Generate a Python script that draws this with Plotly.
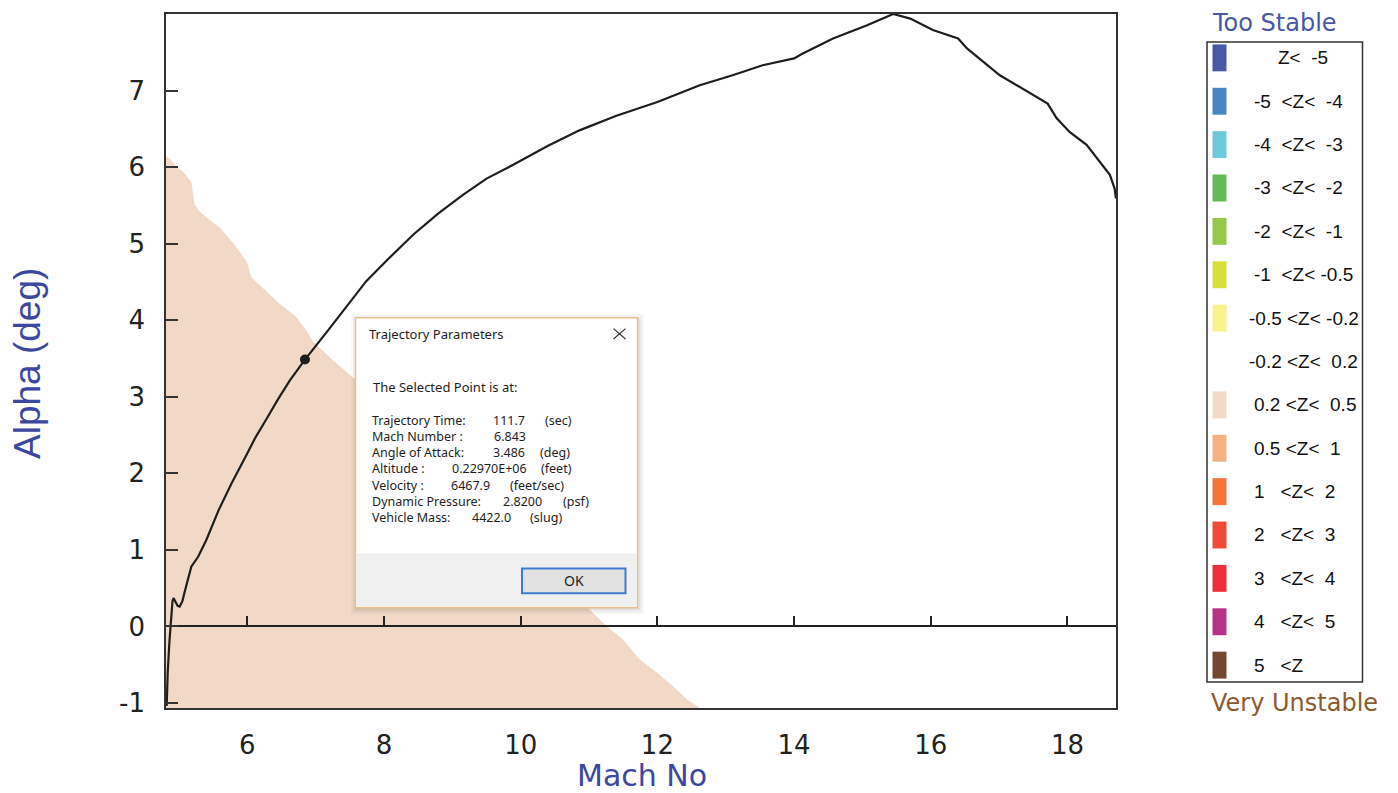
import plotly.graph_objects as go

# ---------------- data ----------------
x_range = [4.81, 18.71]
y_range = [-1.065, 8.0]
x_ticks = [6, 8, 10, 12, 14, 16, 18]
x_tick_labels = ["6", "8", "10", "12", "14", "16", "18"]
y_ticks = [-1, 0, 1, 2, 3, 4, 5, 6, 7]
y_tick_labels = ["-1", "0", "1", "2", "3", "4", "5", "6", "7"]

traj_mach = [4.82, 4.835, 4.86, 4.885, 4.905, 4.92, 4.95, 4.98, 5.01, 5.05, 5.08, 5.13, 5.18,
             5.28, 5.40, 5.58, 5.77, 5.97, 6.12, 6.28, 6.45, 6.62, 6.843, 7.21, 7.45,
             7.74, 8.05, 8.43, 8.80, 9.16, 9.50, 9.89, 10.40, 10.86, 11.40, 12.00, 12.62,
             13.10, 13.54, 14.00, 14.12, 14.57, 15.06, 15.45, 15.70, 16.03, 16.40, 16.53,
             17.01, 17.71, 17.84, 18.03, 18.28, 18.47, 18.62, 18.69, 18.71]
traj_alpha = [-1.04, -0.60, -0.20, 0.09, 0.33, 0.37, 0.32, 0.27, 0.26, 0.33, 0.44, 0.62, 0.78,
              0.91, 1.13, 1.52, 1.87, 2.21, 2.47, 2.71, 2.97, 3.21, 3.486, 3.90, 4.18,
              4.51, 4.79, 5.12, 5.40, 5.64, 5.85, 6.03, 6.28, 6.48, 6.67, 6.85, 7.07,
              7.20, 7.33, 7.42, 7.48, 7.68, 7.85, 8.00, 7.94, 7.79, 7.68, 7.55,
              7.20, 6.83, 6.64, 6.46, 6.29, 6.07, 5.90, 5.72, 5.59]

sel_mach = [6.843]
sel_alpha = [3.486]

# boundary of the 0.2 < Z < 0.5 region (Mach, alpha)
zone_mach = [4.81, 4.88, 4.96, 5.05, 5.18, 5.23, 5.30, 5.45, 5.60, 5.80, 5.99, 6.06, 6.25,
             6.48, 6.70, 6.84, 6.96, 7.21, 7.55, 9.00, 10.00, 11.01, 11.26, 11.50, 11.74,
             11.99, 12.23, 12.43, 12.57, 12.62]
zone_alpha = [6.14, 6.10, 6.00, 5.95, 5.81, 5.51, 5.42, 5.31, 5.21, 5.00, 4.77, 4.56, 4.40,
              4.21, 4.06, 3.90, 3.73, 3.51, 3.25, 1.95, 1.10, 0.22, 0.00, -0.17, -0.43,
              -0.60, -0.78, -0.95, -1.04, -1.065]

legend_labels = ["Z<\u00a0\u00a0-5", "-5\u00a0\u00a0<Z<\u00a0\u00a0-4", "-4\u00a0\u00a0<Z<\u00a0\u00a0-3",
                 "-3\u00a0\u00a0<Z<\u00a0\u00a0-2", "-2\u00a0\u00a0<Z<\u00a0\u00a0-1",
                 "-1\u00a0\u00a0<Z<\u00a0-0.5", "-0.5\u00a0<Z<\u00a0-0.2", "-0.2\u00a0<Z<\u00a0\u00a00.2",
                 "0.2\u00a0<Z<\u00a0\u00a00.5", "0.5\u00a0<Z<\u00a0\u00a01", "1\u00a0\u00a0\u00a0<Z<\u00a0\u00a02",
                 "2\u00a0\u00a0\u00a0<Z<\u00a0\u00a03", "3\u00a0\u00a0\u00a0<Z<\u00a0\u00a04",
                 "4\u00a0\u00a0\u00a0<Z<\u00a0\u00a05", "5\u00a0\u00a0\u00a0<Z"]
legend_colors = ["#4A58A8", "#4885C5", "#6ECADB", "#65BA55", "#97C84B", "#D8DF3A", "#FAF18F",
                 None, "#F2D9C7", "#F5B183", "#F37339", "#EE4C38", "#EE2F3A", "#B73388", "#744830"]

param_labels = ["Trajectory Time:", "Mach Number :", "Angle of Attack:", "Altitude :",
                "Velocity :", "Dynamic Pressure:", "Vehicle Mass:"]
param_values = ["111.7", "6.843", "3.486", "0.22970E+06", "6467.9", "2.8200", "4422.0"]
param_units = ["(sec)", "", "(deg)", "(feet)", "(feet/sec)", "(psf)", "(slug)"]

# ---------------- layout helpers (reference pixel -> paper) ----------------
W, H = 1398, 793
ML, MR, MT, MB = 166, 282, 12, 85
PW, PH = W - ML - MR, H - MT - MB


def px(x):
    return (x - ML) / PW


def py(y):
    return (H - MB - y) / PH


fig = go.Figure()

# stability zone fill
poly_x = [x_range[0]] + zone_mach + [x_range[0]]
poly_y = [y_range[0]] + zone_alpha + [y_range[0]]
fig.add_trace(go.Scatter(x=poly_x, y=poly_y, mode="lines", fill="toself",
                         fillcolor="#F2D9C7", line=dict(width=0, color="#F2D9C7"),
                         hoverinfo="skip", showlegend=False))

# trajectory
fig.add_trace(go.Scatter(x=traj_mach, y=traj_alpha, mode="lines",
                         line=dict(color="#1E1E1E", width=2.2), showlegend=False))

# selected point (on the zero-line axis, same scale)
fig.add_trace(go.Scatter(x=sel_mach, y=sel_alpha, mode="markers", xaxis="x2", yaxis="y",
                         marker=dict(color="#1E1E1E", size=10), showlegend=False))

zero_pos = (0 - y_range[0]) / (y_range[1] - y_range[0])

fig.update_layout(
    width=W, height=H,
    margin=dict(l=ML, r=MR, t=MT, b=MB),
    paper_bgcolor="white", plot_bgcolor="white",
    showlegend=False,
    xaxis=dict(range=x_range, tickvals=x_ticks, ticktext=x_tick_labels, ticks="",
               showgrid=False, zeroline=False, showline=True, mirror=True,
               linecolor="#333333", linewidth=1.5, ticklabelstandoff=13,
               tickfont=dict(family="DejaVu Sans", size=26, color="#222222")),
    xaxis2=dict(matches="x", overlaying="x", anchor="free", position=zero_pos,
                tickvals=x_ticks, ticks="inside", ticklen=10, tickwidth=1.5,
                tickcolor="#222222", showticklabels=False, showgrid=False,
                zeroline=False, showline=True, linecolor="#222222", linewidth=1.5),
    yaxis=dict(range=y_range, tickvals=y_ticks, ticktext=y_tick_labels, ticks="inside",
               ticklen=12, tickwidth=1.5, tickcolor="#333333",
               showgrid=False, zeroline=False, showline=True, mirror=True,
               linecolor="#333333", linewidth=1.5, ticklabelstandoff=14,
               tickfont=dict(family="DejaVu Sans", size=26, color="#222222")),
)

shapes = []
ann = []

# axis titles
ann.append(dict(text="Mach No", x=px(642), y=py(776), xref="paper", yref="paper",
                showarrow=False, xanchor="center", yanchor="middle", borderpad=0,
                font=dict(family="DejaVu Sans", size=30, color="#3B47A0")))
ann.append(dict(text="Alpha (deg)", x=px(28), y=py(363), xref="paper", yref="paper",
                showarrow=False, xanchor="center", yanchor="middle", textangle=-90,
                font=dict(family="Liberation Sans", size=37, color="#3B47A0")))

# ---------------- legend panel ----------------
ann.append(dict(text="Too Stable", x=px(1274), y=py(21), xref="paper", yref="paper",
                showarrow=False, xanchor="center", yanchor="middle",
                font=dict(family="DejaVu Sans", size=24, color="#4B57A6")))
ann.append(dict(text="Very Unstable", x=px(1294), y=py(703), xref="paper", yref="paper",
                showarrow=False, xanchor="center", yanchor="middle",
                font=dict(family="DejaVu Sans", size=24, color="#8C5A2E")))
shapes.append(dict(type="rect", xref="paper", yref="paper", x0=px(1207), x1=px(1362.5),
                   y0=py(40), y1=py(682), line=dict(color="#333333", width=1.5),
                   fillcolor="rgba(0,0,0,0)", layer="above"))
label_x = [1276] + [1251.5] * 5 + [1247, 1247] + [1251.5] * 7
for i, (lab, col) in enumerate(zip(legend_labels, legend_colors)):
    yc = 56 + 43.5 * i
    if col is not None:
        shapes.append(dict(type="rect", xref="paper", yref="paper", x0=px(1212.5), x1=px(1226.5),
                           y0=py(yc - 13.5), y1=py(yc + 13.5), fillcolor=col,
                           line=dict(width=0), layer="above"))
    ann.append(dict(text=lab, x=px(label_x[i]), y=py(yc), xref="paper", yref="paper",
                    showarrow=False, xanchor="left", yanchor="middle",
                    font=dict(family="Liberation Sans", size=19, color="#111111")))

# ---------------- dialog box ----------------
for k, op in [(6, 0.03), (4, 0.04), (2, 0.05)]:
    shapes.append(dict(type="rect", xref="paper", yref="paper", x0=px(355 - k + 2), x1=px(638 + k),
                       y0=py(317 - k + 2), y1=py(608 + k), fillcolor=f"rgba(0,0,0,{op})",
                       line=dict(width=0), layer="above"))
shapes.append(dict(type="rect", xref="paper", yref="paper", x0=px(355.5), x1=px(637.5),
                   y0=py(316.5), y1=py(607.5), fillcolor="white",
                   line=dict(color="#E8C18A", width=1.5), layer="above"))
shapes.append(dict(type="rect", xref="paper", yref="paper", x0=px(356.5), x1=px(636.5),
                   y0=py(553), y1=py(606.7), fillcolor="#F0F0F0",
                   line=dict(width=0), layer="above"))
shapes.append(dict(type="rect", xref="paper", yref="paper", x0=px(522), x1=px(625.5),
                   y0=py(568), y1=py(593), fillcolor="#E1E1E1",
                   line=dict(color="#3C7BD0", width=2), layer="above"))
for (a, b, c, d) in [(613.5, 327.5, 625.5, 338), (613.5, 338, 625.5, 327.5)]:
    shapes.append(dict(type="line", xref="paper", yref="paper", x0=px(a), y0=py(b),
                       x1=px(c), y1=py(d), line=dict(color="#333333", width=1.2), layer="above"))

dfont = dict(family="Noto Sans", size=12.5, color="#1E1E1E")
ann.append(dict(text="Trajectory Parameters", x=px(366.5), y=py(333), xref="paper", yref="paper",
                showarrow=False, xanchor="left", yanchor="middle",
                font=dict(family="Noto Sans", size=13, color="#1E1E1E")))
ann.append(dict(text="The Selected Point is at:", x=px(370.5), y=py(386.5), xref="paper",
                yref="paper", showarrow=False, xanchor="left", yanchor="middle",
                font=dict(family="Noto Sans", size=13, color="#1E1E1E")))
row_y = [420, 435.5, 452, 468, 484.5, 501, 517]
val_x = [492, 493, 492, 450.5, 450, 502, 470.5]
unit_x = [544, 0, 539, 540, 509, 562, 529]
for i in range(len(param_labels)):
    ann.append(dict(text=param_labels[i], x=px(370.5), y=py(row_y[i]), xref="paper", yref="paper",
                    showarrow=False, xanchor="left", yanchor="middle", font=dfont, borderpad=0))
    ann.append(dict(text=param_values[i], x=px(val_x[i]), y=py(row_y[i]), xref="paper", yref="paper",
                    showarrow=False, xanchor="left", yanchor="middle", font=dfont, borderpad=0))
    if param_units[i]:
        ann.append(dict(text=param_units[i], x=px(unit_x[i]), y=py(row_y[i]), xref="paper",
                        yref="paper", showarrow=False, xanchor="left", yanchor="middle",
                        font=dfont, borderpad=0))
ann.append(dict(text="OK", x=px(573.7), y=py(580.5), xref="paper", yref="paper",
                showarrow=False, xanchor="center", yanchor="middle",
                font=dict(family="Noto Sans", size=14, color="#1E1E1E")))

fig.update_layout(shapes=shapes, annotations=ann)
fig.write_html("out.html", config={"displayModeBar": False},
               post_script="document.body.style.margin='0px';")
